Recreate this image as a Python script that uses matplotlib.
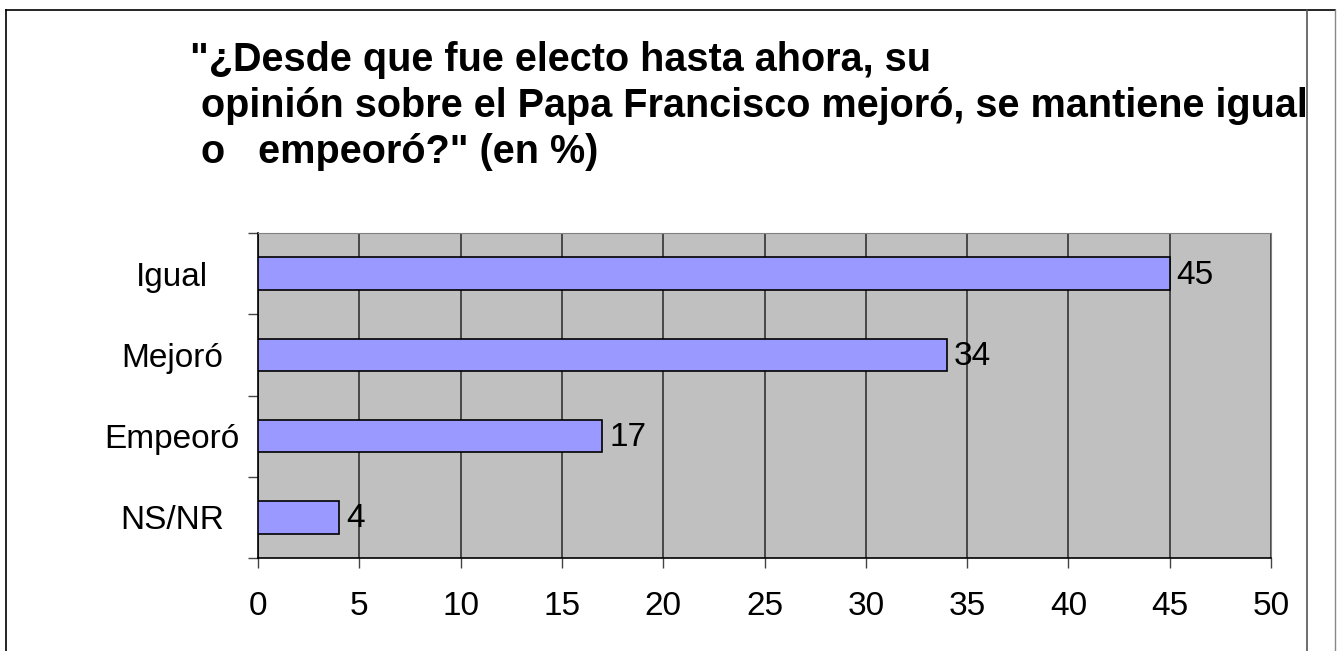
import matplotlib.pyplot as plt
from matplotlib.lines import Line2D

plt.rcParams['font.family'] = ['Liberation Sans', 'DejaVu Sans']

categories = ['NS/NR', 'Empeoró', 'Mejoró', 'Igual']
values = [4, 17, 34, 45]
xticks = [0, 5, 10, 15, 20, 25, 30, 35, 40, 45, 50]
title = ('"¿Desde que fue electo hasta ahora, su\n'
         ' opinión sobre el Papa Francisco mejoró, se mantiene igual\n'
         ' o   empeoró?" (en %)')

W, H = 1341, 651
fig = plt.figure(figsize=(W / 100, H / 100), dpi=100)

# outer frame lines
def fline(x0, y0, x1, y1, color='black', lw=1.2):
    fig.add_artist(Line2D([x0 / W, x1 / W], [1 - y0 / H, 1 - y1 / H],
                          color=color, lw=lw, transform=fig.transFigure))

fline(6, 10, 6, 651)
fline(6, 10, 1335, 10)
fline(1307, 10, 1307, 651, color='#555555')
fline(1335, 10, 1335, 651, color='#888888', lw=1)

fig.text(190 / W, 1 - 41 / H, title, fontsize=28.5, fontweight='bold',
         ha='left', va='top', linespacing=1.27)

left, right, top, bottom = 258, 1271, 233, 558
ax = fig.add_axes([left / W, 1 - bottom / H, (right - left) / W, (bottom - top) / H])
ax.set_facecolor('#C0C0C0')

ypos = list(range(len(categories)))
ax.barh(ypos, values, height=0.4, color='#9999FF', edgecolor='black', lw=1.2, zorder=3)
for y, v in zip(ypos, values):
    ax.annotate(str(v), (v, y), xytext=(5, -1), textcoords='offset points',
                va='center', ha='left', fontsize=24, zorder=4)

ax.set_xlim(0, 50)
ax.set_ylim(-0.5, len(categories) - 0.5)
ax.set_xticks(xticks)
ax.set_xticklabels([str(t) for t in xticks], fontsize=24)
ax.tick_params(axis='x', length=7, width=1, color='#444444', pad=17)
ax.xaxis.grid(True, color='#333333', lw=1.2, zorder=1)

# category boundaries as major ticks, labels at centers via minor ticks
ax.set_yticks([i - 0.5 for i in range(len(categories) + 1)])
ax.set_yticklabels([])
ax.tick_params(axis='y', which='major', length=7, width=1, color='#444444')
ax.set_yticks(ypos, minor=True)
ax.set_yticklabels(categories, minor=True, fontsize=24)
ax.tick_params(axis='y', which='minor', length=0, pad=62)
for lab in ax.get_yticklabels(minor=True):
    lab.set_horizontalalignment('center')

for s in ['top', 'right']:
    ax.spines[s].set_color('#808080')
ax.spines['left'].set_color('black')
ax.spines['bottom'].set_color('black')
ax.spines['left'].set_linewidth(1.2)
ax.spines['bottom'].set_linewidth(1.2)

fig.savefig('out.png', dpi=100)
